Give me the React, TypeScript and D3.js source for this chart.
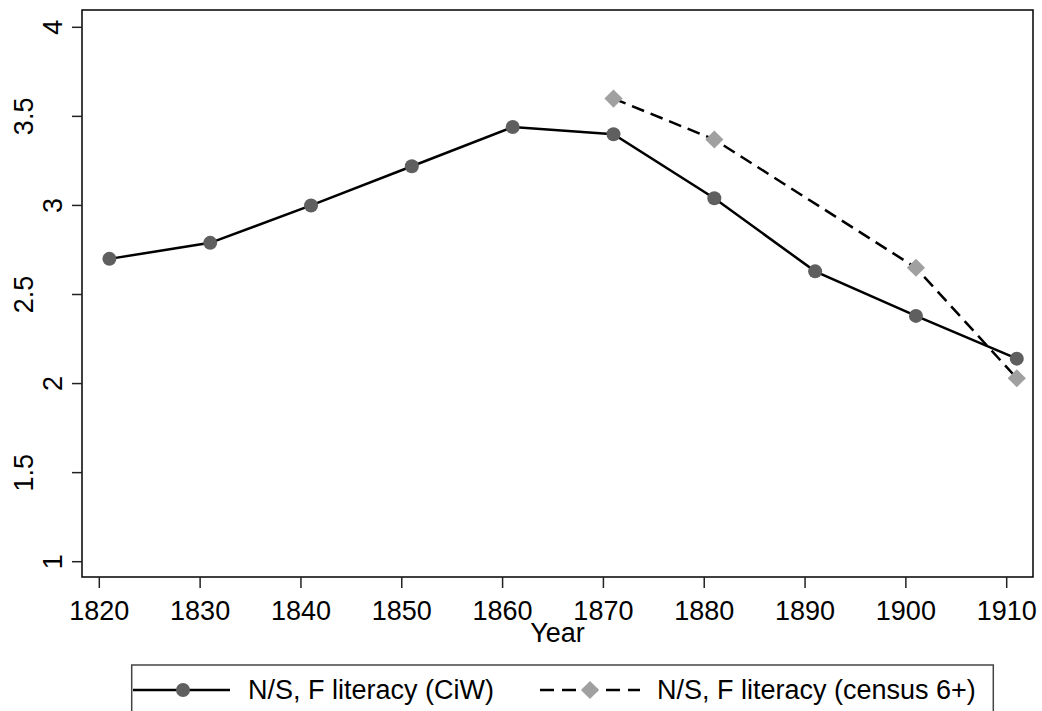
import React from 'react';
import * as d3 from 'd3';

// CiW series: every census year from 1821 to 1911
const ciwYears = [1821, 1831, 1841, 1851, 1861, 1871, 1881, 1891, 1901, 1911];
const ciwValues = [2.70, 2.79, 3.00, 3.22, 3.44, 3.40, 3.04, 2.63, 2.38, 2.14];

// census 6+ series (no 1891 point)
const censusYears = [1871, 1881, 1901, 1911];
const censusValues = [3.60, 3.37, 2.65, 2.03];

const xTickValues = [1820, 1830, 1840, 1850, 1860, 1870, 1880, 1890, 1900, 1910];
const yTickValues = [1, 1.5, 2, 2.5, 3, 3.5, 4];

const legendLabels = ['N/S, F literacy (CiW)', 'N/S, F literacy (census 6+)'];

const W = 1042;
const H = 711;
const font = '"Liberation Sans", Arial, sans-serif';
const fs = 27;

const App = () => {
  const box = { left: 82, right: 1033, top: 10, bottom: 577 };

  const x = d3.scaleLinear().domain([1820, 1910]).range([99.3, 1006.7]);
  const y = d3.scaleLinear().domain([1, 4]).range([561.7, 27.3]);

  const line = d3.line<[number, number]>()
    .x(d => x(d[0]))
    .y(d => y(d[1]));

  const ciw = ciwYears.map((yr, i) => [yr, ciwValues[i]] as [number, number]);
  const census = censusYears.map((yr, i) => [yr, censusValues[i]] as [number, number]);

  const diamond = d3.symbol().type(d3.symbolSquare).size(165)();

  return (
    <svg width={W} height={H} style={{ position: 'absolute', left: 0, top: 0, background: '#fff' }}
      fontFamily={font}>
      <rect x={0} y={0} width={W} height={H} fill="#fff" />

      {/* plot frame */}
      <rect x={box.left} y={box.top} width={box.right - box.left} height={box.bottom - box.top}
        fill="none" stroke="#000" strokeWidth={1.5} />

      {/* y axis */}
      {yTickValues.map(v => (
        <g key={'y' + v}>
          <line x1={box.left - 10} x2={box.left} y1={y(v)} y2={y(v)} stroke="#222" strokeWidth={1.5} />
          <text
            transform={`translate(${String(v).includes('.') ? 33 : 62},${y(v)}) rotate(-90)`}
            textAnchor="middle" fontSize={fs} fill="#000">
            {String(v)}
          </text>
        </g>
      ))}

      {/* x axis */}
      {xTickValues.map(v => (
        <g key={'x' + v}>
          <line x1={x(v)} x2={x(v)} y1={box.bottom} y2={box.bottom + 11} stroke="#222" strokeWidth={1.5} />
          <text x={x(v)} y={620} textAnchor="middle" fontSize={fs} fill="#000">{v}</text>
        </g>
      ))}
      <text x={(box.left + box.right) / 2} y={642} textAnchor="middle" fontSize={fs} fill="#000">Year</text>

      {/* series */}
      <path d={line(ciw) || ''} fill="none" stroke="#000" strokeWidth={2.5} />
      <path d={line(census) || ''} fill="none" stroke="#000" strokeWidth={2.5} strokeDasharray="13,7" />
      {ciw.map(d => (
        <circle key={'c' + d[0]} cx={x(d[0])} cy={y(d[1])} r={7} fill="#5f5f5f" />
      ))}
      {census.map(d => (
        <path key={'d' + d[0]} d={diamond}
          transform={`translate(${x(d[0])},${y(d[1])}) rotate(45)`} fill="#a0a0a0" />
      ))}

      {/* legend */}
      <rect x={131.7} y={665} width={993.3 - 131.7} height={80} fill="none" stroke="#444" strokeWidth={1.5} />
      <line x1={133} x2={230} y1={690} y2={690} stroke="#000" strokeWidth={2.5} />
      <circle cx={183} cy={690} r={7} fill="#5f5f5f" />
      <text x={248} y={699} fontSize={fs} fill="#000">{legendLabels[0]}</text>
      <line x1={540} x2={640} y1={690} y2={690} stroke="#000" strokeWidth={2.5} strokeDasharray="14,8" />
      <path d={diamond} transform="translate(590,690) rotate(45)" fill="#a0a0a0" />
      <text x={657} y={699} fontSize={fs} fill="#000">{legendLabels[1]}</text>
    </svg>
  );
};

export default App;
